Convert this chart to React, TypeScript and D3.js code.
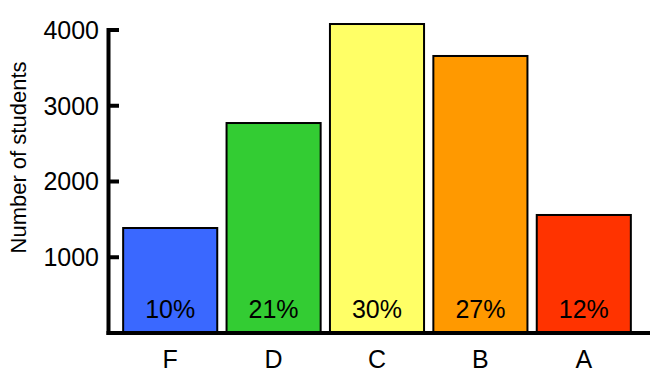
import React from "react";
import * as d3 from "d3";

const grades = ["F", "D", "C", "B", "A"];
const students = [1386, 2772, 4079, 3657, 1558];
const percents = ["10%", "21%", "30%", "27%", "12%"];
const colors = ["#3a68ff", "#33cc33", "#ffff66", "#ff9900", "#ff3300"];
const yTicks = [1000, 2000, 3000, 4000];

export default function App() {
  const W = 663, H = 383;
  const y = d3.scaleLinear().domain([0, 4000]).range([333, 30]);
  const x = d3.scaleBand<string>().domain(grades).range([118.5, 635.5]).paddingInner(0.09).paddingOuter(0.045);
  const font = "Liberation Sans, Arial, sans-serif";
  return (
    <svg width={W} height={H} style={{ position: "absolute", left: 0, top: 0 }} fontFamily={font}>
      <rect width={W} height={H} fill="#fff" />
      {grades.map((g, i) => (
        <g key={g}>
          <rect x={x(g)} y={y(students[i])} width={x.bandwidth()} height={y(0) - y(students[i])}
            fill={colors[i]} stroke="#000" strokeWidth={2} />
          <text x={x(g)! + x.bandwidth() / 2} y={318} textAnchor="middle" fontSize={25} fill="#000">{percents[i]}</text>
          <text x={x(g)! + x.bandwidth() / 2} y={367.5} textAnchor="middle" fontSize={25} fill="#000">{g}</text>
        </g>
      ))}
      <line x1={108.5} x2={108.5} y1={28} y2={335} stroke="#000" strokeWidth={4} />
      <line x1={106.5} x2={650} y1={333} y2={333} stroke="#000" strokeWidth={4} />
      {yTicks.map(t => (
        <g key={t}>
          <line x1={108.5} x2={119} y1={y(t)} y2={y(t)} stroke="#000" strokeWidth={4} />
          <text x={99} y={y(t)} dy="0.35em" textAnchor="end" fontSize={25} fill="#000">{t}</text>
        </g>
      ))}
      <text transform={`translate(25.5,157.5) rotate(-90)`} textAnchor="middle" fontSize={22} fill="#000">Number of students</text>
    </svg>
  );
}
